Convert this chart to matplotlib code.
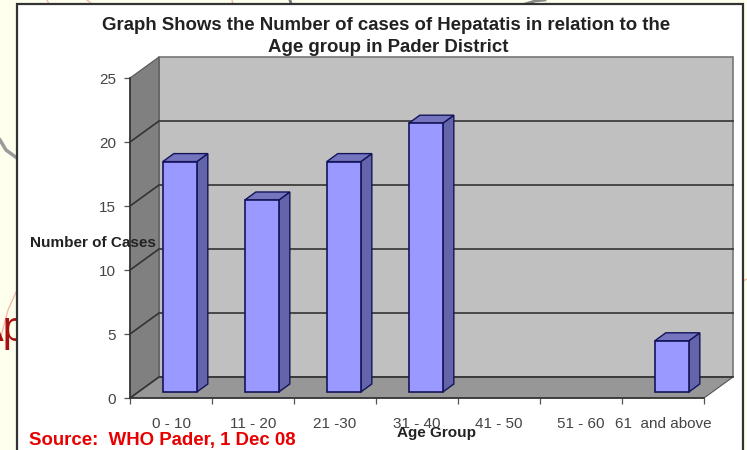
import matplotlib
matplotlib.use("Agg")
import matplotlib.pyplot as plt
from matplotlib.patches import Polygon, Rectangle
from matplotlib.transforms import Affine2D

categories = ["0 - 10", "11 - 20", "21 -30", "31 - 40", "41 - 50", "51 - 60", "61  and above"]
cases = [18, 15, 18, 21, 0, 0, 4]
y_ticks = [0, 5, 10, 15, 20, 25]
title = "Graph Shows the Number of cases of Hepatatis in relation to the\nAge group in Pader District"

W, H = 747, 450
plt.rcParams["font.family"] = ["Liberation Sans", "DejaVu Sans"]
fig = plt.figure(figsize=(W / 100, H / 100), dpi=100, facecolor="#FFFFEE")
px = Affine2D().scale(1 / W, -1 / H).translate(0, 1) + fig.transFigure

# Slide background behind the chart panel
fig.add_artist(plt.Line2D([0, 6, 17], [140, 150, 158], transform=px, color="#9a9a9a", lw=2.5, zorder=0))
fig.add_artist(plt.Line2D([290, 291], [0, 4], transform=px, color="#777777", lw=2, zorder=0))
fig.add_artist(plt.Line2D([525, 535, 545], [4, 1, 0], transform=px, color="#888888", lw=2, zorder=0))
for xs, ys in [([0, 8, 17], [340, 310, 290]), ([47, 49], [0, 4]), ([87, 92], [0, 4]), ([232, 233], [0, 4]), ([743, 747], [281, 279])]:
    fig.add_artist(plt.Line2D(xs, ys, transform=px, color="#F4B8A8", lw=1, zorder=0))
fig.text(-24 / W, 1 - 341 / H, "Ap", color="#A80F0F", fontsize=30, zorder=0.5)
fig.add_artist(Rectangle((17, 4), 726, 460, transform=px, facecolor="white", edgecolor="#333333", lw=1.6, zorder=1))

ax = fig.add_axes([130 / W, 1 - 398 / H, (704 - 130) / W, (398 - 78) / H], zorder=2)
ax.patch.set_visible(False)
n = len(categories)
ax.set_xlim(0, n)
ax.set_ylim(0, 25)
DX, DY = 29 / 82, 21 / 12.8          # depth of the 3-D box, in data units
top = y_ticks[-1]

ax.add_patch(Polygon([(DX, DY), (n + DX, DY), (n + DX, top + DY), (DX, top + DY)], closed=True,
                     facecolor="#C0C0C0", edgecolor="#777777", lw=1.2, clip_on=False, zorder=1))
ax.add_patch(Polygon([(0, 0), (DX, DY), (DX, top + DY), (0, top)], closed=True,
                     facecolor="#808080", edgecolor="#555555", lw=0.8, clip_on=False, zorder=1))
ax.add_patch(Polygon([(0, 0), (n, 0), (n + DX, DY), (DX, DY)], closed=True,
                     facecolor="#979797", edgecolor="#555555", lw=0.8, clip_on=False, zorder=1))
for v in y_ticks[:-1]:
    ax.plot([0, DX, n + DX], [v, v + DY, v + DY], color="#333333", lw=1.2, clip_on=False, zorder=2,
            solid_joinstyle="miter")

# Bars
BX0, BW = 0.40, 0.415
BASE = 6 / 12.8
DBX, DBY = 11 / 82, 8 / 12.8
edge = "#14145A"
for i, v in enumerate(cases):
    if v <= 0:
        continue
    x0, x1 = i + BX0, i + BX0 + BW
    y0, y1 = BASE, v + BASE
    ax.add_patch(Polygon([(x1, y0), (x1 + DBX, y0 + DBY), (x1 + DBX, y1 + DBY), (x1, y1)], closed=True,
                         facecolor="#6464AA", edgecolor=edge, lw=1, clip_on=False, zorder=3))
    ax.add_patch(Polygon([(x0, y1), (x0 + DBX, y1 + DBY), (x1 + DBX, y1 + DBY), (x1, y1)], closed=True,
                         facecolor="#7575BF", edgecolor=edge, lw=1, clip_on=False, zorder=3))
    ax.add_patch(Rectangle((x0, y0), BW, y1 - y0, facecolor="#9999FF", edgecolor=edge, lw=1.2,
                           clip_on=False, zorder=4))

# Axes
for s in ("top", "right"):
    ax.spines[s].set_visible(False)
for s in ("left", "bottom"):
    ax.spines[s].set_color("#333333")
    ax.spines[s].set_linewidth(1.2)
    ax.spines[s].set_zorder(5)
ax.set_yticks(y_ticks)
ax.set_yticklabels([str(t) for t in y_ticks], fontsize=11, color="#444444")
ax.set_xticks(range(n + 1))
ax.set_xticklabels([""] * (n + 1))
ax.tick_params(axis="both", length=4, width=0.9, color="#555555")
ax.tick_params(axis="y", pad=6)
for i, c in enumerate(categories):
    ax.annotate(c, (i + 0.5, 0), xytext=(0, -26), textcoords="offset pixels", ha="center", va="center",
                fontsize=11, color="#444444", annotation_clip=False, zorder=6)

# Texts
title_lines = title.split("\n")
fig.text(386 / W, 1 - 25 / H, title_lines[0], ha="center", va="center", fontsize=13.4, fontweight="bold",
         color="#222222", zorder=6)
fig.text(388 / W, 1 - 47 / H, title_lines[1], ha="center", va="center", fontsize=13.4, fontweight="bold",
         color="#222222", zorder=6)
fig.text(30 / W, 1 - 243 / H, "Number of Cases", ha="left", va="center", fontsize=11, fontweight="bold",
         color="#222222", zorder=6)
fig.text(436 / W, 1 - 433 / H, "Age Group", ha="center", va="center", fontsize=11, fontweight="bold",
         color="#222222", zorder=6)
fig.text(29 / W, 1 - 441 / H, "Source:  WHO Pader, 1 Dec 08", ha="left", va="center", fontsize=13.4,
         fontweight="bold", color="#E80000", zorder=6)

fig.savefig("out.png", dpi=100, facecolor=fig.get_facecolor())
